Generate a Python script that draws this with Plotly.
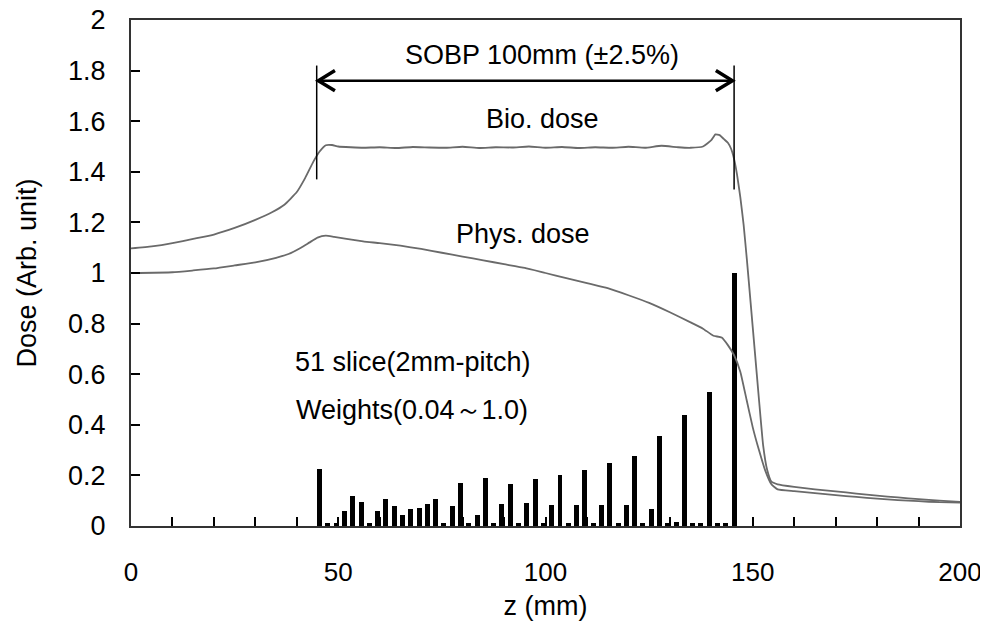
import plotly.graph_objects as go

# ---------------- data ----------------
slice_z = [45.5, 47.5, 49.5, 51.5, 53.5, 55.5, 57.5, 59.5, 61.5, 63.5,
           65.5, 67.5, 69.5, 71.5, 73.5, 75.5, 77.5, 79.5, 81.5, 83.5,
           85.5, 87.5, 89.5, 91.5, 93.5, 95.5, 97.5, 99.5, 101.5, 103.5,
           105.5, 107.5, 109.5, 111.5, 113.5, 115.5, 117.5, 119.5, 121.5, 123.5,
           125.5, 127.5, 129.5, 131.5, 133.5, 135.5, 137.5, 139.5, 141.5, 143.5,
           145.5]
slice_w = [0.225, 0.01, 0.01, 0.06, 0.12, 0.094, 0.01, 0.06, 0.107, 0.08,
           0.043, 0.066, 0.072, 0.087, 0.107, 0.01, 0.08, 0.17, 0.01, 0.043,
           0.19, 0.01, 0.086, 0.165, 0.01, 0.092, 0.185, 0.01, 0.082, 0.2,
           0.01, 0.085, 0.22, 0.01, 0.082, 0.25, 0.01, 0.085, 0.277, 0.01,
           0.066, 0.355, 0.01, 0.015, 0.44, 0.01, 0.01, 0.53, 0.01, 0.01,
           1.0]

bio_z = [0, 5, 10, 15, 20, 25, 30, 34, 37, 40, 42, 44, 45.5, 47, 48.5, 50, 53, 56,
         60, 64, 68, 72, 76, 80, 84, 88, 92, 96, 100, 104, 108, 112, 116, 120, 124,
         128, 132, 135, 138, 140, 141, 142, 143, 144, 144.8, 145.5, 146.2, 147,
         147.8, 148.6, 149.5, 150.5, 151.5, 152.5, 153.5, 154.5, 156, 160, 165,
         170, 175, 180, 185, 190, 195, 200]
bio_d = [1.097, 1.105, 1.118, 1.135, 1.152, 1.178, 1.21, 1.24, 1.27, 1.32, 1.375,
         1.44, 1.48, 1.505, 1.506, 1.50, 1.497, 1.495, 1.497, 1.494, 1.498, 1.496,
         1.495, 1.499, 1.494, 1.497, 1.496, 1.500, 1.495, 1.498, 1.494, 1.497,
         1.495, 1.499, 1.495, 1.503, 1.497, 1.495, 1.50, 1.525, 1.548, 1.545, 1.53,
         1.515, 1.49, 1.45, 1.39, 1.30, 1.19, 1.05, 0.88, 0.69, 0.50, 0.32, 0.22,
         0.175, 0.165, 0.155, 0.145, 0.137, 0.128, 0.12, 0.113, 0.106, 0.10, 0.095]

phys_z = [0, 10, 15, 20, 25, 30, 35, 38, 41, 43, 45, 47, 49, 52, 56, 60, 65, 70,
          75, 80, 85, 90, 95, 100, 105, 110, 115, 120, 125, 130, 135, 138, 140.5,
          142.5, 144, 145.5, 147, 148.5, 150, 151.5, 153, 154.5, 156, 160, 165,
          170, 175, 180, 185, 190, 195, 200]
phys_d = [1.0, 1.003, 1.01, 1.018, 1.03, 1.042, 1.06, 1.075, 1.1, 1.12, 1.14,
          1.148, 1.143, 1.135, 1.125, 1.118, 1.108, 1.095, 1.08, 1.065, 1.05,
          1.035, 1.02, 1.0, 0.98, 0.96, 0.94, 0.912, 0.882, 0.845, 0.805, 0.78,
          0.752, 0.745, 0.715, 0.675, 0.61, 0.5, 0.39, 0.3, 0.22, 0.165, 0.145,
          0.138, 0.13, 0.122, 0.115, 0.108, 0.102, 0.098, 0.094, 0.092]

x_ticks = [0, 50, 100, 150, 200]
y_ticks = [0, 0.2, 0.4, 0.6, 0.8, 1.0, 1.2, 1.4, 1.6, 1.8, 2.0]
y_labels = ["0", "0.2", "0.4", "0.6", "0.8", "1", "1.2", "1.4", "1.6", "1.8", "2"]

sobp_start, sobp_end = 44.8, 145.5

FONT = "Liberation Sans, Arial, sans-serif"
FS = 27

fig = go.Figure()
fig.add_trace(go.Bar(x=slice_z, y=slice_w, width=1.2,
                     marker=dict(color="black", line=dict(width=0)),
                     showlegend=False, hoverinfo="x+y"))
fig.add_trace(go.Scatter(x=phys_z, y=phys_d, mode="lines",
                         line=dict(color="#6a6a6a", width=1.8, shape="spline", smoothing=0.4),
                         showlegend=False))
fig.add_trace(go.Scatter(x=bio_z, y=bio_d, mode="lines",
                         line=dict(color="#6a6a6a", width=1.8, shape="spline", smoothing=0.4),
                         showlegend=False))

shapes = []
shapes.append(dict(type="line", xref="x", yref="y", x0=sobp_start, x1=sobp_start,
                   y0=1.82, y1=1.37, line=dict(color="black", width=1.5)))
shapes.append(dict(type="line", xref="x", yref="y", x0=sobp_end, x1=sobp_end,
                   y0=1.82, y1=1.33, line=dict(color="black", width=1.5)))
arrow_y = 1.76
shapes.append(dict(type="line", xref="x", yref="y", x0=sobp_start + 0.4, x1=sobp_end - 0.4,
                   y0=arrow_y, y1=arrow_y, line=dict(color="black", width=2.5)))
dx, dy = 4.4, 0.04
shapes.append(dict(type="path", xref="x", yref="y",
                   path=f"M {sobp_start+dx},{arrow_y+dy} L {sobp_start+0.4},{arrow_y} L {sobp_start+dx},{arrow_y-dy}",
                   line=dict(color="black", width=3.5)))
shapes.append(dict(type="path", xref="x", yref="y",
                   path=f"M {sobp_end-dx},{arrow_y+dy} L {sobp_end-0.4},{arrow_y} L {sobp_end-dx},{arrow_y-dy}",
                   line=dict(color="black", width=3.5)))

annotations = [
    dict(x=65.5, y=1.86, text="SOBP 100mm (±2.5%)", xanchor="left", yanchor="middle"),
    dict(x=99.2, y=1.61, text="Bio. dose", xanchor="center", yanchor="middle"),
    dict(x=94.6, y=1.155, text="Phys. dose", xanchor="center", yanchor="middle"),
    dict(x=39.0, y=0.65, text="51 slice(2mm-pitch)", xanchor="left", yanchor="middle"),
    dict(x=39.3, y=0.46, text="Weights(0.04～1.0)", xanchor="left", yanchor="middle"),
]
for a in annotations:
    a.update(xref="x", yref="y", showarrow=False,
             font=dict(family=FONT, size=FS, color="black"))

# page body has an 8 px margin, so the figure is sized to fit the 988x630 window
fig.update_layout(
    width=980, height=622,
    margin=dict(l=123, r=28, t=12, b=104),
    plot_bgcolor="white", paper_bgcolor="white",
    font=dict(family=FONT, size=FS, color="black"),
    shapes=shapes, annotations=annotations,
    bargap=0,
    xaxis=dict(range=[0, 200], tickvals=x_ticks, ticks="inside", ticklen=9,
               tickwidth=1.5, tickcolor="black", automargin=False,
               ticklabeloverflow="allow",
               tickfont=dict(family=FONT, size=26),
               minor=dict(dtick=10, ticks="inside", ticklen=9, tickwidth=1.5, tickcolor="black"),
               showline=True, linecolor="#333333", linewidth=2, mirror=True,
               showgrid=False, zeroline=False, ticklabelstandoff=22,
               title=dict(text="z (mm)", font=dict(family=FONT, size=FS), standoff=10)),
    yaxis=dict(range=[0, 2], tickvals=y_ticks, ticktext=y_labels, ticks="inside",
               ticklen=9, tickwidth=1.5, tickcolor="black", automargin=False,
               ticklabeloverflow="allow",
               showline=True, linecolor="#333333", linewidth=2, mirror=True,
               showgrid=False, zeroline=False, ticklabelstandoff=18,
               title=dict(text="Dose (Arb. unit)", font=dict(family=FONT, size=FS), standoff=24)),
)

fig.write_html("out.html")
